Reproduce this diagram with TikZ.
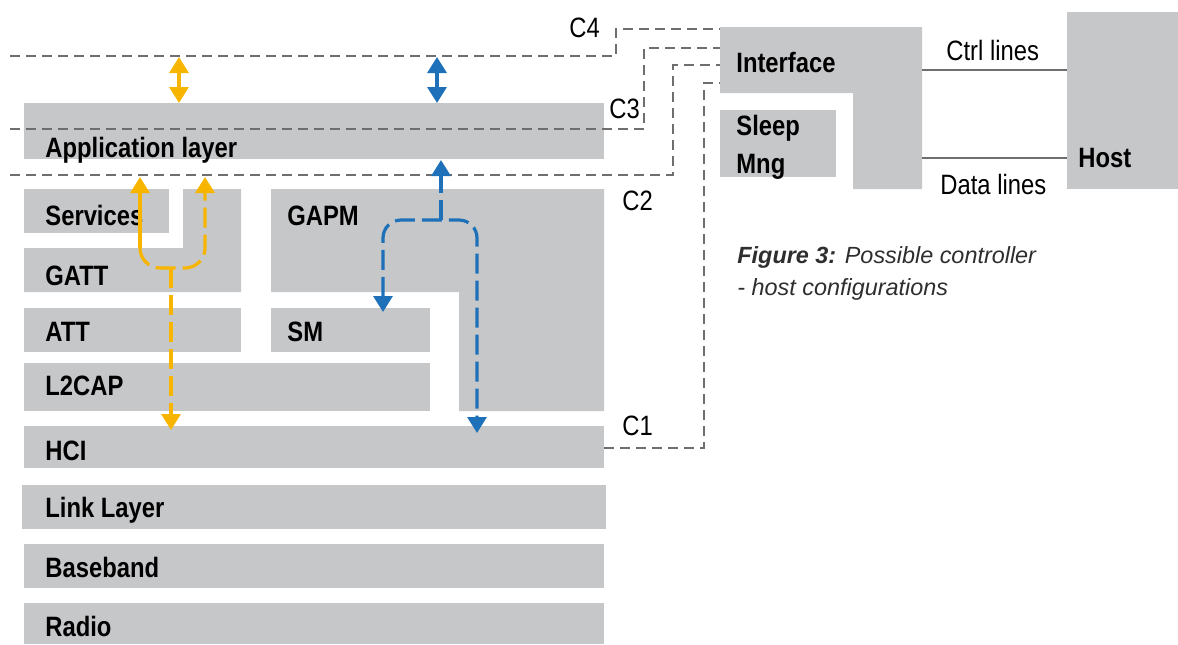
\documentclass[tikz,border=0pt]{standalone}
\usepackage{fontspec}
\setmainfont{Liberation Sans}[FakeStretch=0.85]
\newfontfamily\capfont{Liberation Sans}
\usetikzlibrary{arrows.meta}

\definecolor{boxgray}{HTML}{C6C7C9}
\definecolor{linegray}{HTML}{6E6E6E}
\definecolor{ambr}{HTML}{F7B500}
\definecolor{stackblue}{HTML}{1E70B8}
\definecolor{capgray}{HTML}{2E2E2E}

\tikzset{
  layer/.style={fill=boxgray},
  lbl/.style={anchor=base west, inner sep=0pt, font=\fontsize{14}{16}\selectfont\bfseries},
  cfg/.style={anchor=base west, inner sep=0pt, font=\fontsize{14}{16}\selectfont},
  capline/.style={anchor=base west, inner sep=0pt, text=capgray, font=\capfont\fontsize{11.7}{14}\selectfont\itshape},
  cline/.style={draw=linegray, line width=0.75pt, dash pattern=on 5pt off 3pt},
  wire/.style={draw=linegray, line width=0.8pt},
  yflow/.style={draw=ambr, line width=1.6pt},
  bflow/.style={draw=stackblue, line width=1.6pt},
  dsh/.style={dash pattern=on 10pt off 3.5pt},
  >={Triangle[width=9.5pt,length=8pt]}
}

\begin{document}
\begin{tikzpicture}[x=0.5pt, y=-0.5pt]
    \useasboundingbox (0,0) rectangle (1178,644);

    % Protocol stack (left)
    \fill[layer] (24,103) rectangle (604,159);
    \fill[layer] (24,189) rectangle (169,233);
    \fill[layer] (24,248) -- (183,248) -- (183,189) -- (241,189) -- (241,292) -- (24,292) -- cycle;
    \fill[layer] (271,189) -- (604,189) -- (604,411) -- (459,411) -- (459,292) -- (271,292) -- cycle;
    \fill[layer] (24,308) rectangle (241,352);
    \fill[layer] (271,308) rectangle (430,352);
    \fill[layer] (24,363) rectangle (430,411);
    \fill[layer] (24,426) rectangle (604,468);
    \fill[layer] (22,485) rectangle (606,529);
    \fill[layer] (24,544) rectangle (604,588);
    \fill[layer] (24,603) rectangle (604,644);

    \node[lbl] (app) at (45,157) {Application layer};
    \node[lbl] (svc) at (45,225) {Services};
    \node[lbl] (gatt) at (45,285) {GATT};
    \node[lbl] (gapm) at (287,225) {GAPM};
    \node[lbl] (att) at (45,341) {ATT};
    \node[lbl] (sm) at (287,341) {SM};
    \node[lbl] (ltcap) at (45,395) {L2CAP};
    \node[lbl] (hci) at (45,460) {HCI};
    \node[lbl] (ll) at (45,517) {Link Layer};
    \node[lbl] (bb) at (45,577) {Baseband};
    \node[lbl] (radio) at (45,636) {Radio};

    % Interface, sleep manager and host (right)
    \fill[layer] (720,27) -- (922,27) -- (922,189) -- (853,189) -- (853,93) -- (720,93) -- cycle;
    \fill[layer] (720,110) rectangle (836,177);
    \fill[layer] (1067,12) rectangle (1178,189);

    \node[lbl] (iface) at (736,72) {Interface};
    \node[lbl] (sleep) at (736,135) {Sleep};
    \node[lbl] (mng) at (736,173) {Mng};
    \node[lbl] (host) at (1078,167) {Host};

    \coordinate (ifCtrl) at (922,70);
    \coordinate (hoCtrl) at (1067,70);
    \coordinate (ifData) at (922,158);
    \coordinate (hoData) at (1067,158);
    \draw[wire] (ifCtrl) -- (hoCtrl);
    \draw[wire] (ifData) -- (hoData);
    \node[cfg] (ctrl) at (946,60) {Ctrl lines};
    \node[cfg] (data) at (940,194) {Data lines};

    % Configuration cuts C1..C4
    \coordinate (cfourW) at (10,56);
    \coordinate (cfourE) at (720,29);
    \coordinate (cthreeW) at (10,129);
    \coordinate (cthreeE) at (720,48);
    \coordinate (ctwoW) at (10,175);
    \coordinate (ctwoE) at (720,65);
    \coordinate (coneW) at (604,448);
    \coordinate (coneE) at (720,83);
    \draw[cline] (cfourW) -- (616,56) |- (cfourE);
    \draw[cline] (cthreeW) -- (644,129) |- (cthreeE);
    \draw[cline] (ctwoW) -- (673,175) |- (ctwoE);
    \draw[cline] (coneW) -- (704,448) |- (coneE);

    \node[cfg] (cfour) at (569,37) {C4};
    \node[cfg] (cthree) at (609,118) {C3};
    \node[cfg] (ctwo) at (622,210) {C2};
    \node[cfg] (cone) at (622,435) {C1};

    % Yellow flows
    \coordinate (yTopA) at (179,57);
    \coordinate (yBotA) at (179,103);
    \draw[yflow, <->] (yTopA) -- (yBotA);

    \coordinate (yUpL) at (140,177);
    \coordinate (yLb) at (140,248);
    \coordinate (yLc) at (140,268);
    \coordinate (yRc) at (205,268);
    \coordinate (yUpR) at (205,177);
    \coordinate (yJoin) at (171,268);
    \coordinate (yDown) at (171,430);
    \draw[yflow, ->] (yLb) -- (yUpL);
    \draw[yflow, dsh, rounded corners=10pt, ->] (yLb) -- (yLc) -- (yRc) -- (yUpR);
    \draw[yflow, dsh, ->] (yJoin) -- (yDown);

    % Blue flows
    \coordinate (bTopA) at (437,57);
    \coordinate (bBotA) at (437,103);
    \draw[bflow, <->] (bTopA) -- (bBotA);

    \coordinate (bT) at (441,220);
    \coordinate (bUp) at (441,160);
    \coordinate (bLc) at (383,220);
    \coordinate (bRc) at (477,220);
    \coordinate (bSM) at (383,312);
    \coordinate (bHCI) at (477,433);
    \draw[bflow, dsh, ->] (bT) -- (bUp);
    \draw[bflow, dsh, rounded corners=9pt, <->] (bSM) -- (bLc) -- (bRc) -- (bHCI);

    % Caption
    \node[capline] (capa) at (737,263) {\textbf{Figure 3:} Possible controller};
    \node[capline] (capb) at (737,295) {- host configurations};
\end{tikzpicture}
\end{document}
